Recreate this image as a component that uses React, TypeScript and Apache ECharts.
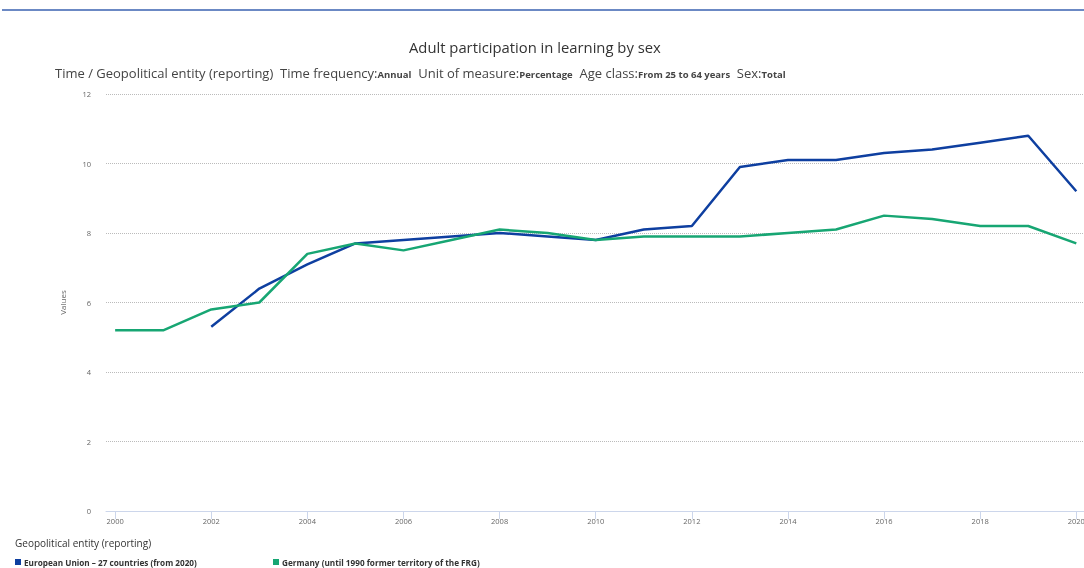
import React, { useEffect, useRef } from "react";
import * as echarts from "echarts";

const years = [2000, 2001, 2002, 2003, 2004, 2005, 2006, 2007, 2008, 2009, 2010, 2011, 2012, 2013, 2014, 2015, 2016, 2017, 2018, 2019, 2020];
const euValues = [null, null, 5.3, 6.4, 7.1, 7.7, 7.8, 7.9, 8.0, 7.9, 7.8, 8.1, 8.2, 9.9, 10.1, 10.1, 10.3, 10.4, 10.6, 10.8, 9.2];
const deValues = [5.2, 5.2, 5.8, 6.0, 7.4, 7.7, 7.5, 7.8, 8.1, 8.0, 7.8, 7.9, 7.9, 7.9, 8.0, 8.1, 8.5, 8.4, 8.2, 8.2, 7.7];
const xTicks = [2000, 2002, 2004, 2006, 2008, 2010, 2012, 2014, 2016, 2018, 2020];
const seriesNames = ["European Union - 27 countries (from 2020)", "Germany (until 1990 former territory of the FRG)"];
const seriesLabels = ["European Union – 27 countries (from 2020)", "Germany (until 1990 former territory of the FRG)"];
const colors = ["#0e3fa0", "#17a673"];

export default function App() {
  const ref = useRef<HTMLDivElement>(null);
  useEffect(() => {
    if (!ref.current) return;
    const chart = echarts.init(ref.current, null, { renderer: "svg" });
    const font = "Open Sans";
    chart.setOption({
      animation: false,
      textStyle: { fontFamily: font },
      title: [
        {
          text: "Adult participation in learning by sex",
          left: 404,
          top: 34,
          textStyle: { fontSize: 14.8, fontWeight: "normal", color: "#333", fontFamily: font },
        },
        {
          text:
            "{n|Time / Geopolitical entity (reporting)  Time frequency:}{b|Annual}{n|  Unit of measure:}{b|Percentage}{n|  Age class:}{b|From 25 to 64 years}{n|  Sex:}{b|Total}",
          left: 50,
          top: 60,
          textStyle: {
            fontWeight: "normal",
            rich: {
              n: { fontSize: 13, lineHeight: 16, fontWeight: "normal", color: "#444", fontFamily: font },
              b: { fontSize: 9.5, lineHeight: 16, fontWeight: "bold", color: "#444", fontFamily: font, padding: [3, 0, 0, 0] },
            },
          },
        },
        {
          text: "Geopolitical entity (reporting)",
          left: 10,
          top: 533,
          textStyle: { fontSize: 10, fontWeight: "normal", color: "#333", fontFamily: font },
        },
      ],
      graphic: [
        {
          type: "line",
          shape: { x1: 2, y1: 10, x2: 1084, y2: 10 },
          style: { stroke: "#3a62b0", lineWidth: 1.5 },
        },
      ],
      legend: [
        {
          data: [seriesNames[0]],
          left: 10,
          top: 553,
          icon: "rect",
          itemWidth: 6,
          itemHeight: 6,
          itemGap: 4,
          formatter: () => seriesLabels[0],
          textStyle: { fontSize: 8.2, fontWeight: "bold", color: "#333", fontFamily: font, padding: [0, 0, 0, -2] },
        },
        {
          data: [seriesNames[1]],
          left: 268,
          top: 553,
          icon: "rect",
          itemWidth: 6,
          itemHeight: 6,
          formatter: () => seriesLabels[1],
          textStyle: { fontSize: 8.2, fontWeight: "bold", color: "#333", fontFamily: font, padding: [0, 0, 0, -2] },
        },
      ],
      grid: { left: 106, right: 0, top: 94, bottom: 57, containLabel: false, outerBoundsMode: "none" },
      xAxis: {
        type: "value",
        min: 1999.81,
        max: 2020.16,
        axisLine: { lineStyle: { color: "#ccd6eb" } },
        axisTick: { show: true, customValues: xTicks, length: 8, lineStyle: { color: "#ccd6eb" } },
        axisLabel: { customValues: xTicks, fontSize: 7.5, color: "#666", margin: 6, formatter: (v: number) => String(v) },
        splitLine: { show: false },
      },
      yAxis: {
        type: "value",
        min: 0,
        max: 12,
        interval: 2,
        name: "Values",
        nameLocation: "middle",
        nameGap: 40,
        nameTextStyle: { fontSize: 8, color: "#666" },
        axisLine: { show: false },
        axisTick: { show: false },
        axisLabel: { fontSize: 7.5, color: "#666", margin: 15 },
        splitLine: { lineStyle: { color: "#bbb", type: [1, 1], width: 1 } },
      },
      series: [
        {
          name: seriesNames[0],
          type: "line",
          data: years.map((y, i) => [y, euValues[i]]),
          showSymbol: false,
          symbol: "none",
          lineStyle: { color: colors[0], width: 2.5 },
          itemStyle: { color: colors[0] },
          connectNulls: false,
        },
        {
          name: seriesNames[1],
          type: "line",
          data: years.map((y, i) => [y, deValues[i]]),
          showSymbol: false,
          symbol: "none",
          lineStyle: { color: colors[1], width: 2.5 },
          itemStyle: { color: colors[1] },
        },
      ],
    });
    return () => chart.dispose();
  }, []);
  return <div ref={ref} style={{ position: "fixed", left: 0, top: 0, width: 1084, height: 568 }} />;
}
